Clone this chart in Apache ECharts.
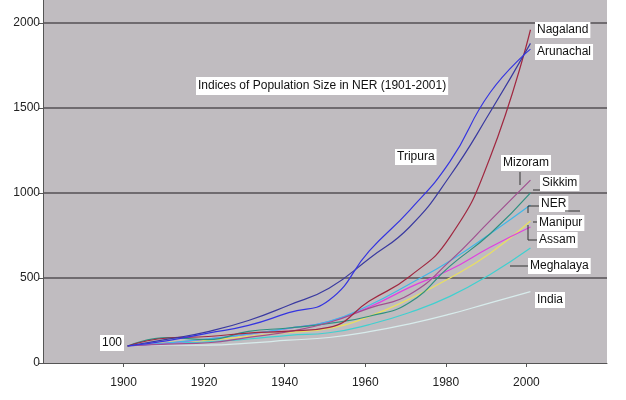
<!DOCTYPE html>
<html>
<head>
<meta charset="utf-8">
<script src="https://cdn.jsdelivr.net/npm/echarts@6/dist/echarts.min.js"></script>
<style>
  html, body { margin: 0; padding: 0; background: #fff; }
  #main { width: 626px; height: 400px; }
</style>
</head>
<body>
<div id="main"></div>
<script>
// census years and index values (1901 = 100)
const years = [1901, 1911, 1921, 1931, 1941, 1951, 1961, 1971, 1981, 1991, 2001];
const arunachal = [100, 140, 185, 250, 340, 440, 615, 800, 1100, 1476, 1880];
const tripura = [100, 132, 176, 221, 296, 369, 659, 898, 1184, 1591, 1846];
const nagaland = [100, 147, 156, 176, 187, 210, 364, 509, 740, 1210, 1960];
const mizoram = [100, 111, 119, 151, 185, 238, 323, 403, 599, 837, 1076];
const sikkim = [100, 149, 138, 186, 206, 233, 275, 356, 570, 760, 1000];
const ner = [100, 119, 142, 170, 205, 245, 340, 465, 600, 760, 929];
const manipur = [100, 122, 135, 157, 180, 203, 274, 377, 500, 646, 835];
const assam = [100, 117, 141, 169, 204, 244, 329, 445, 548, 681, 800];
const meghalaya = [100, 116, 124, 141, 163, 178, 226, 297, 392, 521, 676];
const india = [100, 106, 105, 117, 134, 150, 184, 230, 287, 354, 420];

const seriesList = [
  ['India', india, '#d8ecec'],
  ['Meghalaya', meghalaya, '#40d0d0'],
  ['Manipur', manipur, '#e8e060'],
  ['Assam', assam, '#e040e0'],
  ['NER', ner, '#40b8e8'],
  ['Sikkim', sikkim, '#309080'],
  ['Mizoram', mizoram, '#a05090'],
  ['Nagaland', nagaland, '#a02840'],
  ['Arunachal', arunachal, '#3a3aa0'],
  ['Tripura', tripura, '#3535e0']
];

const font = 'Liberation Sans, Arial, sans-serif';

// label boxes: text, left x, centre y
const labels = [
  ['Nagaland', 535, 30],
  ['Arunachal', 535, 52],
  ['Tripura', 395, 157],
  ['Mizoram', 501, 163],
  ['Sikkim', 540, 183],
  ['NER', 539, 204],
  ['Manipur', 537, 223],
  ['Assam', 537, 240],
  ['Meghalaya', 528, 266],
  ['India', 535, 300],
  ['100', 100, 343]
];

// leader lines
const leaders = [
  [[520, 172], [520, 185]],
  [[533, 190], [540, 190]],
  [[539, 206], [528, 206], [528, 213]],
  [[565, 211], [580, 211]],
  [[533, 222], [537, 222]],
  [[528, 225], [528, 240], [537, 240]],
  [[510, 266], [528, 266]]
];

const chart = echarts.init(document.getElementById('main'));

const graphics = labels.map(function (l) {
  return {
    type: 'text',
    x: l[1],
    y: l[2],
    z: 100,
    style: {
      text: l[0],
      font: '12px ' + font,
      fill: '#111',
      verticalAlign: 'middle',
      backgroundColor: '#fff',
      padding: [2, 2]
    }
  };
});
graphics.push({
  type: 'text',
  x: 196,
  y: 86,
  z: 100,
  style: {
    text: 'Indices of Population Size in NER (1901-2001)',
    font: '12px ' + font,
    fill: '#111',
    verticalAlign: 'middle',
    backgroundColor: '#fff',
    padding: [3, 2]
  }
});
leaders.forEach(function (pts) {
  graphics.push({
    type: 'polyline',
    z: 100,
    shape: { points: pts },
    style: { stroke: '#333', lineWidth: 1, fill: null }
  });
});

chart.setOption({
  animation: false,
  grid: {
    left: 43, right: 19, top: 0, bottom: 37,
    show: true,
    backgroundColor: '#c0bcc0',
    borderWidth: 0
  },
  xAxis: {
    type: 'value',
    min: 1880,
    max: 2020,
    interval: 20,
    axisLine: { show: true, lineStyle: { color: '#555', width: 1 } },
    axisTick: { show: true, length: 4, lineStyle: { color: '#555' } },
    axisLabel: {
      showMinLabel: false,
      showMaxLabel: false,
      margin: 14,
      color: '#222',
      fontSize: 12,
      fontFamily: font,
      formatter: function (v) { return String(v); }
    },
    splitLine: { show: false }
  },
  yAxis: {
    type: 'value',
    min: 0,
    max: 2135,
    interval: 500,
    axisLine: { show: true, lineStyle: { color: '#555', width: 1 } },
    axisTick: { show: true, length: 4, lineStyle: { color: '#555' } },
    axisLabel: {
      showMaxLabel: false,
      margin: 3,
      color: '#222',
      fontSize: 12,
      fontFamily: font,
      formatter: function (v) { return String(v); }
    },
    splitLine: {
      show: true,
      showMinLine: false,
      showMaxLine: false,
      lineStyle: { color: '#545054', width: 1.5 }
    }
  },
  series: seriesList.map(function (s) {
    return {
      name: s[0],
      type: 'line',
      data: years.map(function (y, i) { return [y, s[1][i]]; }),
      smooth: 0.5,
      showSymbol: false,
      lineStyle: { color: s[2], width: 1.2 },
      itemStyle: { color: s[2] }
    };
  }),
  graphic: graphics
});
</script>
</body>
</html>
